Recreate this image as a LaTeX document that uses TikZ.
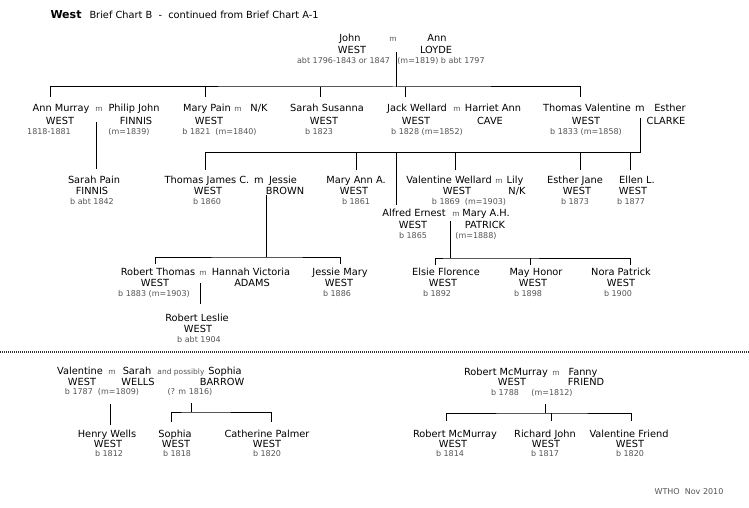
\documentclass[tikz,border=0pt]{standalone}
\usepackage{fontspec}
\setmainfont{DejaVu Sans}
\definecolor{DateGray}{rgb}{0.33,0.33,0.33}

\begin{document}
\begin{tikzpicture}[x=1pt,y=-1pt,line width=1pt,
  nm/.style={inner sep=0pt,anchor=base,yshift=-3.5pt,font=\fontsize{9.8}{11}\selectfont},
  dt/.style={inner sep=0pt,anchor=base,yshift=-2.9pt,text=DateGray,font=\fontsize{8}{9}\selectfont},
  mk/.style={inner sep=0pt,anchor=base,yshift=-3.5pt,text=DateGray,font=\fontsize{7.5}{9}\selectfont}]
\useasboundingbox (0,0) rectangle (749,508);

% title
\node[inner sep=0pt,anchor=base west,font=\bfseries\fontsize{11}{13}\selectfont] (ttl) at (50,19) {West};
\node[nm,anchor=base west] (sub) at (89,15) {Brief Chart B\ \ -\ \ continued from Brief Chart A-1};

% John West m Ann Loyde
\node[nm] (john) at (350,38) {John};
\node[mk] (johnM) at (393,38) {m};
\node[nm] (ann) at (437,38) {Ann};
\node[nm] (johnS) at (352,50) {WEST};
\node[nm] (annS) at (436,50) {LOYDE};
\node[dt] (johnD) at (343.5,61) {abt 1796-1843 or 1847};
\node[dt] (annD) at (441,61) {(m=1819) b abt 1797};

% their children
\node[nm] (amN) at (61,108) {Ann Murray};
\node[mk] (amM) at (99,108) {m};
\node[nm] (pjN) at (134,108) {Philip John};
\node[nm] (amS) at (60,121) {WEST};
\node[nm] (pjS) at (136,121) {FINNIS};
\node[dt] (amD) at (49,132) {1818-1881};
\node[dt] (pjD) at (129,132) {(m=1839)};

\node[nm] (mpN) at (207,108) {Mary Pain};
\node[mk] (mpM) at (238,108) {m};
\node[nm] (nkN) at (259,108) {N/K};
\node[nm] (mpS) at (209,121) {WEST};
\node[dt] (mpD) at (219.5,132) {b 1821\ \ (m=1840)};

\node[nm] (ssN) at (327,108) {Sarah Susanna};
\node[nm] (ssS) at (324,121) {WEST};
\node[dt] (ssD) at (319,132) {b 1823};

\node[nm] (jwN) at (417,108) {Jack Wellard};
\node[mk] (jwM) at (457,108) {m};
\node[nm] (haN) at (493,108) {Harriet Ann};
\node[nm] (jwS) at (416,121) {WEST};
\node[nm] (haS) at (490,121) {CAVE};
\node[dt] (jwD) at (427,132) {b 1828 (m=1852)};

\node[nm] (tvN) at (587,108) {Thomas Valentine};
\node[nm] (tvM) at (640,108) {m};
\node[nm] (ecN) at (670,108) {Esther};
\node[nm] (tvS) at (586,121) {WEST};
\node[nm] (ecS) at (666,121) {CLARKE};
\node[dt] (tvD) at (586,132) {b 1833 (m=1858)};

% grandchildren
\node[nm] (spN) at (94,180) {Sarah Pain};
\node[nm] (spS) at (92,191) {FINNIS};
\node[dt] (spD) at (92,202) {b abt 1842};

\node[nm] (tjN) at (207,180) {Thomas James C.};
\node[nm] (tjM) at (259,180) {m};
\node[nm] (jbN) at (283,180) {Jessie};
\node[nm] (tjS) at (208,191) {WEST};
\node[nm] (jbS) at (285,191) {BROWN};
\node[dt] (tjD) at (207,202) {b 1860};

\node[nm] (maN) at (356,180) {Mary Ann A.};
\node[nm] (maS) at (354,191) {WEST};
\node[dt] (maD) at (356,202) {b 1861};

\node[nm] (vlN) at (449,180) {Valentine Wellard};
\node[mk] (vlM) at (499,180) {m};
\node[nm] (lyN) at (515,180) {Lily};
\node[nm] (vlS) at (457,191) {WEST};
\node[nm] (lyS) at (517,191) {N/K};
\node[dt] (vlD) at (469,202) {b 1869\ \ (m=1903)};

\node[nm] (ejN) at (575,180) {Esther Jane};
\node[nm] (ejS) at (577,191) {WEST};
\node[dt] (ejD) at (575,202) {b 1873};

\node[nm] (elN) at (637,180) {Ellen L.};
\node[nm] (elS) at (633,191) {WEST};
\node[dt] (elD) at (631,202) {b 1877};

\node[nm] (aeN) at (414,213) {Alfred Ernest};
\node[mk] (aeM) at (456,213) {m};
\node[nm] (mhN) at (486,213) {Mary A.H.};
\node[nm] (aeS) at (413,225) {WEST};
\node[nm] (mhS) at (485,225) {PATRICK};
\node[dt] (aeD) at (413,236) {b 1865};
\node[dt] (mhD) at (476,236) {(m=1888)};

% great-grandchildren
\node[nm] (rtN) at (158,272) {Robert Thomas};
\node[mk] (rtM) at (203,272) {m};
\node[nm] (hvN) at (251,272) {Hannah Victoria};
\node[nm] (rtS) at (155,283) {WEST};
\node[nm] (hvS) at (252,283) {ADAMS};
\node[dt] (rtD) at (154,294) {b 1883 (m=1903)};

\node[nm] (jmN) at (340,272) {Jessie Mary};
\node[nm] (jmS) at (339,283) {WEST};
\node[dt] (jmD) at (337,294) {b 1886};

\node[nm] (efN) at (446,272) {Elsie Florence};
\node[nm] (efS) at (443,283) {WEST};
\node[dt] (efD) at (437,294) {b 1892};

\node[nm] (mhoN) at (536,272) {May Honor};
\node[nm] (mhoS) at (533,283) {WEST};
\node[dt] (mhoD) at (528,294) {b 1898};

\node[nm] (npN) at (621,272) {Nora Patrick};
\node[nm] (npS) at (621,283) {WEST};
\node[dt] (npD) at (618,294) {b 1900};

\node[nm] (rlN) at (197,318) {Robert Leslie};
\node[nm] (rlS) at (198,329) {WEST};
\node[dt] (rlD) at (199,340) {b abt 1904};

% Valentine West m Sarah Wells / Sophia Barrow
\node[nm] (vwN) at (80,371) {Valentine};
\node[mk] (vwM) at (112,371) {m};
\node[nm] (swN) at (137,371) {Sarah};
\node[mk] (apN) at (181,371) {and possibly};
\node[nm] (sbN) at (225,371) {Sophia};
\node[nm] (vwS) at (82,382) {WEST};
\node[nm] (swS) at (138,382) {WELLS};
\node[nm] (sbS) at (222,382) {BARROW};
\node[dt] (vwD) at (102,392) {b 1787\ \ (m=1809)};
\node[dt] (sbD) at (190,392) {(? m 1816)};

\node[nm] (hwN) at (107,434) {Henry Wells};
\node[nm] (hwS) at (108,444) {WEST};
\node[dt] (hwD) at (109,454) {b 1812};
\node[nm] (soN) at (175,434) {Sophia};
\node[nm] (soS) at (176,444) {WEST};
\node[dt] (soD) at (177,454) {b 1818};
\node[nm] (cpN) at (267,434) {Catherine Palmer};
\node[nm] (cpS) at (267,444) {WEST};
\node[dt] (cpD) at (267,454) {b 1820};

% Robert McMurray West m Fanny Friend
\node[nm] (rmN) at (506,372) {Robert McMurray};
\node[mk] (rmM) at (556,372) {m};
\node[nm] (ffN) at (583,372) {Fanny};
\node[nm] (rmS) at (512,382) {WEST};
\node[nm] (ffS) at (586,382) {FRIEND};
\node[dt] (rmD) at (505,393) {b 1788};
\node[dt] (ffD) at (552,393) {(m=1812)};

\node[nm] (rjN) at (455,434) {Robert McMurray};
\node[nm] (rjS) at (453,444) {WEST};
\node[dt] (rjD) at (450,454) {b 1814};
\node[nm] (riN) at (545,434) {Richard John};
\node[nm] (riS) at (546,444) {WEST};
\node[dt] (riD) at (545,454) {b 1817};
\node[nm] (vfN) at (629,434) {Valentine Friend};
\node[nm] (vfS) at (630,444) {WEST};
\node[dt] (vfD) at (630,454) {b 1820};

\node[dt] (wtho) at (689,492) {WTHO\ \ Nov 2010};

% connectors
\coordinate (wP) at (396,52);
\coordinate (wB) at (396,87);
\coordinate (wC1) at (50,97);
\coordinate (wC2) at (205,97);
\coordinate (wC3) at (320,97);
\coordinate (wC4) at (405,97);
\coordinate (wC5) at (580,97);
\draw (wP) -- (wB);
\draw (wC1) |- (wB) -| (wC5);
\foreach \c in {wC2,wC3,wC4} \draw (\c) -- (\c |- wB);

\coordinate (amP) at (96,122);
\coordinate (amC) at (96,169);
\draw (amP) -- (amC);

\coordinate (tvP) at (640,118);
\coordinate (tvB) at (640,152);
\coordinate (tvC1) at (205,170);
\coordinate (tvC2) at (356,170);
\coordinate (tvC3) at (396,205);
\coordinate (tvC4) at (455,170);
\coordinate (tvC5) at (580,170);
\coordinate (tvC6) at (630,170);
\draw (tvP) -- (tvB) -| (tvC1);
\foreach \c in {tvC2,tvC3,tvC4,tvC5,tvC6} \draw (\c) -- (\c |- tvB);

\coordinate (tjP) at (266,195);
\coordinate (tjB) at (266,257);
\coordinate (tjC1) at (155,264);
\coordinate (tjC2) at (340,264);
\draw (tjP) -- (tjB);
\draw (tjC1) |- (tjB) -| (tjC2);

\coordinate (rtP) at (200,283);
\coordinate (rtC) at (200,304);
\draw (rtP) -- (rtC);

\coordinate (aeP) at (450,221);
\coordinate (aeB) at (450,258);
\coordinate (aeC1) at (435,265);
\coordinate (aeC2) at (530,265);
\coordinate (aeC3) at (630,265);
\draw (aeP) -- (aeB);
\draw (aeC1) |- (aeB) -| (aeC3);
\draw (aeC2) -- (aeC2 |- aeB);

\coordinate (sepL) at (0,352);
\coordinate (sepR) at (749,352);
\draw[line width=1.6pt,black!80,dash pattern=on 1pt off 1pt] (sepL) -- (sepR);

\coordinate (vwP) at (110,404);
\coordinate (vwC) at (110,425);
\draw (vwP) -- (vwC);

\coordinate (sbP) at (191,403);
\coordinate (sbB) at (191,412);
\coordinate (sbC1) at (171,422);
\coordinate (sbC2) at (271,422);
\draw (sbP) -- (sbB);
\draw (sbC1) |- (sbB) -| (sbC2);

\coordinate (rmP) at (545,404);
\coordinate (rmB) at (545,413);
\coordinate (rmC1) at (446,421);
\coordinate (rmC2) at (551,421);
\coordinate (rmC3) at (631,421);
\draw (rmP) -- (rmB);
\draw (rmC1) |- (rmB) -| (rmC3);
\draw (rmC2) -- (rmC2 |- rmB);

\end{tikzpicture}
\end{document}
